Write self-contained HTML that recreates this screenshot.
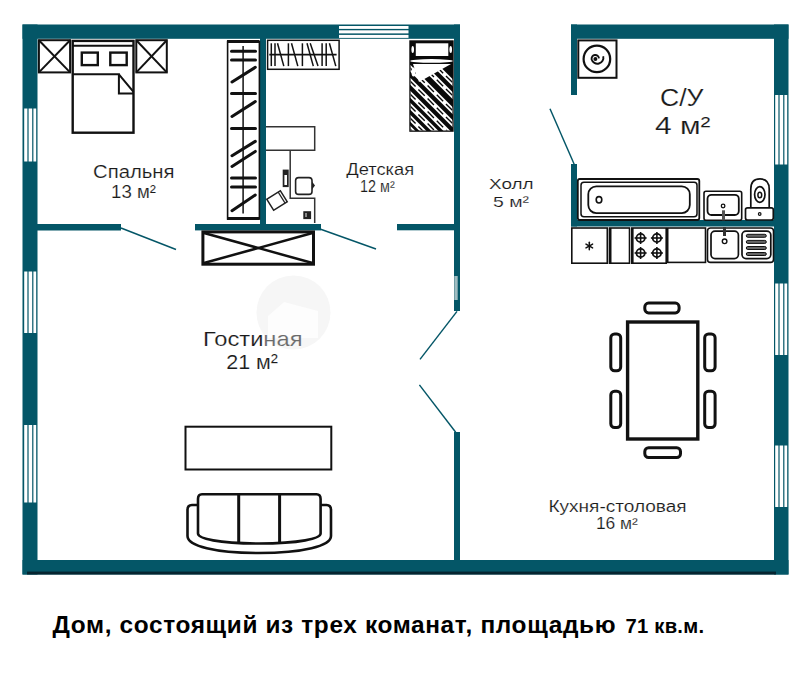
<!DOCTYPE html>
<html><head><meta charset="utf-8">
<style>
html,body{margin:0;padding:0;background:#fff;width:801px;height:700px;overflow:hidden}
svg{display:block}
.t{font-family:"Liberation Sans",sans-serif;fill:#1a1a1a;stroke:#fff;stroke-width:0.15px}
.b{font-family:"Liberation Sans",sans-serif;font-weight:bold;fill:#000}
</style></head><body>
<svg width="801" height="700" viewBox="0 0 801 700">
<rect width="801" height="700" fill="#fff"/>

<!-- watermark -->
<circle cx="293.5" cy="312.5" r="37" fill="#f6f6f6"/>
<path d="M268 316 L284 302 L318 311 L318 338 L268 338 Z" fill="#fdfdfd"/>

<!-- WALLS -->
<g fill="#045667">
  <!-- main top wall -->
  <rect x="22.5" y="24.5" width="437.5" height="14.3"/>
  <!-- left wall -->
  <rect x="22.5" y="24.5" width="15" height="550"/>
  <!-- bottom wall -->
  <rect x="22.5" y="560" width="766" height="14.5"/>
  <!-- main right wall (hall side) -->
  <rect x="454" y="24.5" width="6" height="286.5"/>
  <rect x="454" y="432" width="6" height="130"/>
  <!-- bedroom bottom wall -->
  <rect x="37" y="224" width="84" height="6.5"/>
  <rect x="195" y="224" width="126" height="6.4"/>
  <rect x="397" y="224" width="57" height="6.3"/>
  <!-- partition -->
  <rect x="260" y="38" width="6" height="188"/>
  <!-- bathroom -->
  <rect x="571" y="24.5" width="217.5" height="14.3"/>
  <rect x="571" y="24.5" width="6" height="70.5"/>
  <rect x="571" y="164" width="6" height="62.5"/>
  <rect x="571" y="220" width="203" height="6.5"/>
  <!-- right wall -->
  <rect x="774" y="24.5" width="14.5" height="550"/>
</g>
<rect x="27" y="571.6" width="749" height="2.9" fill="#062530"/>
<rect x="454.3" y="276" width="3.4" height="24" fill="#9fbcc1"/>

<!-- WINDOWS -->
<defs>
  <g id="winv">
    <rect x="0" y="0" width="15" height="1" fill="#045667"/>
  </g>
</defs>
<g id="windows">
  <!-- left wall windows -->
  <g fill="#fff">
    <rect x="24.2" y="108.5" width="3.2" height="53"/>
    <rect x="28.6" y="108.5" width="3.6" height="53"/>
    <rect x="33.4" y="108.5" width="2.8" height="53"/>
    <rect x="24.2" y="271.5" width="3.2" height="61.5"/>
    <rect x="28.6" y="271.5" width="3.6" height="61.5"/>
    <rect x="33.4" y="271.5" width="2.8" height="61.5"/>
    <rect x="24.2" y="425" width="3.2" height="77.5"/>
    <rect x="28.6" y="425" width="3.6" height="77.5"/>
    <rect x="33.4" y="425" width="2.8" height="77.5"/>
    <!-- right wall windows -->
    <rect x="775.2" y="95" width="3.2" height="69.5"/>
    <rect x="779.6" y="95" width="3.6" height="69.5"/>
    <rect x="784.4" y="95" width="2.8" height="69.5"/>
    <rect x="775.2" y="283.5" width="3.2" height="71.5"/>
    <rect x="779.6" y="283.5" width="3.6" height="71.5"/>
    <rect x="784.4" y="283.5" width="2.8" height="71.5"/>
    <rect x="775.2" y="445.5" width="3.2" height="61.5"/>
    <rect x="779.6" y="445.5" width="3.6" height="61.5"/>
    <rect x="784.4" y="445.5" width="2.8" height="61.5"/>
    <!-- top window -->
    <rect x="339" y="26" width="69.5" height="2.9"/>
    <rect x="339" y="30.3" width="69.5" height="3.1"/>
    <rect x="339" y="34.9" width="69.5" height="3"/>
  </g>
</g>

<!-- DOOR SWINGS -->
<g stroke="#045667" stroke-width="1.45" fill="none">
  <line x1="121" y1="228" x2="176" y2="249.5"/>
  <line x1="320" y1="229" x2="376" y2="249"/>
  <line x1="457" y1="311.4" x2="420" y2="359.4"/>
  <line x1="419.4" y1="384.9" x2="455.7" y2="432.3"/>
  <line x1="550" y1="108.75" x2="574.5" y2="165"/>
</g>

<!-- BEDROOM FURNITURE -->
<g stroke="#111" fill="none" stroke-width="2">
  <rect x="38.9" y="40.2" width="31.2" height="32.2"/>
  <line x1="38.9" y1="40.2" x2="70.1" y2="72.4"/>
  <line x1="70.1" y1="40.2" x2="38.9" y2="72.4"/>
  <rect x="136.3" y="40.2" width="30.5" height="32.2"/>
  <line x1="136.3" y1="40.2" x2="166.8" y2="72.4"/>
  <line x1="166.8" y1="40.2" x2="136.3" y2="72.4"/>
  <rect x="72.7" y="40.9" width="60.8" height="91.8" stroke-width="2.4"/>
  <line x1="72.5" y1="45.8" x2="133.5" y2="45.8" stroke-width="2"/>
  <rect x="81.8" y="52.6" width="16" height="12.5" stroke-width="2.4"/>
  <rect x="110.3" y="52.6" width="16.4" height="12.5" stroke-width="2.4"/>
  <path d="M72.5 74.3 H118.9 V93.6 H133.5 M118.9 74.3 L133.5 91.8" stroke-width="2"/>
</g>


<!-- BEDROOM WARDROBE -->
<g stroke="#111" fill="none">
  <rect x="227.6" y="41.5" width="31.8" height="177.5" stroke-width="1.6"/>
  <line x1="227" y1="41.5" x2="259.4" y2="41.5" stroke-width="3"/>
  <line x1="227" y1="218.6" x2="259.4" y2="218.6" stroke-width="3"/>
  <line x1="243.1" y1="46" x2="243.1" y2="213.6" stroke-width="1.5"/>
  <g stroke-width="3" stroke-linecap="round">
    <line x1="231.5" y1="51.3" x2="255.5" y2="51.3"/>
    <line x1="231.5" y1="60.1" x2="255.5" y2="60.1"/>
    <line x1="232" y1="82" x2="255.3" y2="67.3"/>
    <line x1="231.5" y1="93.4" x2="255.5" y2="93.4"/>
    <line x1="232" y1="116.5" x2="255.3" y2="101.6"/>
    <line x1="231.5" y1="128.6" x2="255.5" y2="128.6"/>
    <line x1="232" y1="155.7" x2="255.3" y2="141.4"/>
    <line x1="232" y1="166.4" x2="255.3" y2="151.4"/>
    <line x1="231.5" y1="177.9" x2="255.5" y2="177.9"/>
    <line x1="231.5" y1="187.1" x2="255.5" y2="187.1"/>
    <line x1="232" y1="210.7" x2="255.3" y2="195"/>
  </g>
</g>

<!-- KIDS SHELF -->
<g stroke="#111" fill="none" stroke-width="1.5">
  <rect x="267.6" y="40.3" width="71.5" height="29"/>
  <line x1="269.3" y1="54.7" x2="336.6" y2="54.7" stroke-width="1.8"/>
  <line x1="271.3" y1="43.3" x2="271.3" y2="66.1"/>
  <line x1="275" y1="43.3" x2="275" y2="66.1"/>
  <line x1="277.5" y1="43.3" x2="283.8" y2="66.1"/>
  <line x1="288.4" y1="43.3" x2="288.4" y2="66.1"/>
  <line x1="291.5" y1="43.3" x2="297.8" y2="66.1"/>
  <line x1="302.4" y1="43.3" x2="302.4" y2="66.1"/>
  <line x1="307" y1="43.3" x2="313.3" y2="66.1"/>
  <line x1="310.2" y1="43.3" x2="318" y2="66.1"/>
  <line x1="322.1" y1="43.3" x2="322.1" y2="66.1"/>
  <line x1="326.2" y1="43.3" x2="326.2" y2="66.1"/>
  <line x1="329.4" y1="43.3" x2="335.8" y2="66.1"/>
</g>

<!-- DESK -->
<g stroke="#333" fill="none" stroke-width="1.5">
  <path d="M266 126.7 H314.7 V150.2 H266"/>
  <path d="M290.2 150.2 V198.3 H314.7 V223"/>
  <rect x="282.7" y="169.6" width="6" height="17.5" fill="#222" stroke="none"/>
  <rect x="284.4" y="175" width="2.6" height="10" fill="#fff" stroke="none"/>
  <rect x="295.6" y="177.6" width="16.4" height="16.8" rx="3" stroke="#222" stroke-width="1.6"/>
  <path d="M312 181.5 L315 185.5 L312 189.5 Z" fill="#222" stroke="none"/>
  <g transform="translate(277,200.5) rotate(-32)">
    <rect x="-8" y="-6.5" width="16" height="13" stroke="#222" stroke-width="1.5"/>
    <line x1="5.5" y1="-6.5" x2="5.5" y2="6.5" stroke="#222" stroke-width="1.2"/>
  </g>
  <rect x="303.3" y="211.2" width="7.8" height="7.9" fill="#222" stroke="none"/>
  <rect x="305" y="213" width="2" height="4" fill="#888" stroke="none"/>
</g>

<!-- SINGLE BED -->
<g>
  <rect x="409.3" y="40.3" width="44.4" height="91.5" fill="#0a0a0a"/>
  <rect x="415.8" y="43.3" width="32.5" height="12.7" fill="#fff"/>
  <ellipse cx="412.7" cy="49.5" rx="1.3" ry="3.5" fill="#fff"/>
  <ellipse cx="450.7" cy="49.5" rx="1.3" ry="3.5" fill="#fff"/>
  <ellipse cx="431.5" cy="60.9" rx="21.5" ry="1.8" fill="#fff"/>
  <clipPath id="bedclip"><rect x="410.6" y="64" width="41.8" height="66.5"/></clipPath>
  <g clip-path="url(#bedclip)" stroke="#fff" stroke-width="5" fill="none"><line x1="400" y1="30" x2="470" y2="100"/><line x1="400" y1="43" x2="470" y2="113"/><line x1="400" y1="58" x2="470" y2="128"/><line x1="400" y1="71" x2="470" y2="141"/><line x1="400" y1="84" x2="470" y2="154"/><line x1="400" y1="96" x2="470" y2="166"/><line x1="400" y1="108" x2="470" y2="178"/><line x1="400" y1="119" x2="470" y2="189"/></g>
  <g clip-path="url(#bedclip)" stroke="#0a0a0a" stroke-width="1.4" stroke-dasharray="9 4" fill="none"><line x1="400" y1="30" x2="470" y2="100"/><line x1="400" y1="43" x2="470" y2="113"/><line x1="400" y1="58" x2="470" y2="128"/><line x1="400" y1="71" x2="470" y2="141"/><line x1="400" y1="84" x2="470" y2="154"/><line x1="400" y1="96" x2="470" y2="166"/><line x1="400" y1="108" x2="470" y2="178"/><line x1="400" y1="119" x2="470" y2="189"/></g>
  <path d="M413 64 L451 64 L419 82 Z" fill="#fff"/>
  <ellipse cx="413.5" cy="72" rx="2" ry="4.5" fill="#fff"/>
</g>

<!-- TV CABINET (below partition) -->
<g stroke="#111" fill="none" stroke-width="3">
  <rect x="202.9" y="231.9" width="110.6" height="32.3"/>
  <line x1="204" y1="233" x2="312.5" y2="263" stroke-width="2.5"/>
  <line x1="312.5" y1="233" x2="204" y2="263" stroke-width="2.5"/>
</g>

<!-- WASHING MACHINE -->
<g stroke="#111" fill="none">
  <rect x="578.3" y="40.4" width="38.2" height="37.4" stroke-width="2"/>
  <circle cx="596.9" cy="58.9" r="13.3" stroke-width="2.2"/>
  <path d="M599 58.3 A3.7 3.7 0 0 0 591.6 59.2 A5.7 5.7 0 1 0 603.2 56.2" stroke-width="1.9"/>
  <circle cx="595.4" cy="59" r="2" fill="#111" stroke="none"/>
</g>

<!-- BATHTUB -->
<g stroke="#111" fill="none">
  <rect x="577.8" y="179" width="121.5" height="41" rx="2" stroke-width="1.8"/>
  <rect x="581" y="182.3" width="116" height="34.5" rx="3" stroke-width="1.5"/>
  <rect x="588.3" y="186.3" width="101.5" height="26.8" rx="8" stroke-width="1.8"/>
  <ellipse cx="599" cy="199.8" rx="2.8" ry="3.2" stroke-width="1.6"/>
</g>

<!-- BATH SINK -->
<g stroke="#111" fill="none">
  <rect x="704" y="191.3" width="37.7" height="29" rx="2" stroke-width="1.6"/>
  <rect x="707.5" y="194.8" width="31.3" height="20.2" rx="4" stroke-width="1.8"/>
  <circle cx="723.1" cy="206" r="1.8" stroke-width="1.3"/>
  <rect x="722" y="210.3" width="3" height="10" fill="#555" stroke="none"/>
</g>

<!-- TOILET -->
<g stroke="#111" fill="none">
  <path d="M750.8 207.6 V189 C750.8 182 754.5 178.9 760 178.9 C765.5 178.9 769.2 182 769.2 189 V207.6" stroke-width="1.7"/>
  <ellipse cx="759.8" cy="194.5" rx="5.2" ry="7.8" stroke-width="1.7"/>
  <ellipse cx="759.8" cy="195" rx="1.9" ry="2.8" stroke-width="1.5"/>
  <rect x="745.5" y="207.8" width="27.8" height="12.2" rx="2" stroke-width="1.7"/>
  <circle cx="759.7" cy="214" r="1.3" stroke-width="1.2"/>
</g>

<!-- KITCHEN COUNTER -->
<g stroke="#111" fill="none" stroke-width="1.6">
  <rect x="571.8" y="228" width="35.5" height="35.2"/>
  <g stroke-width="1.5" stroke-linecap="round"><line x1="589.3" y1="242.2" x2="589.3" y2="249.8"/><line x1="586" y1="244.1" x2="592.6" y2="247.9"/><line x1="586" y1="247.9" x2="592.6" y2="244.1"/></g>
  <rect x="609.5" y="228" width="20" height="35.2"/>
  <line x1="610.3" y1="228" x2="610.3" y2="263.2" stroke-width="2.4"/>
  <rect x="631.8" y="228" width="34.4" height="35.2"/>
  <line x1="632.4" y1="228" x2="632.4" y2="263.2" stroke-width="2.4"/>
  <rect x="667.7" y="228" width="37.8" height="34.4"/>
  <rect x="707.5" y="228" width="66" height="34.4" rx="3"/>
  <rect x="711" y="231.1" width="27.4" height="27.5" rx="4" stroke-width="1.7"/>
  <circle cx="724.6" cy="241.3" r="2.3" stroke-width="1.4"/>
  <rect x="723" y="227" width="3" height="9" fill="#333" stroke="none"/>
  <rect x="742" y="231.1" width="28.8" height="27.5" rx="4" stroke-width="1.7"/>
  <g fill="#666" stroke="#111" stroke-width="1">
    <rect x="746.3" y="234.3" width="20" height="3" rx="1.5"/>
    <rect x="746.3" y="240.4" width="20" height="3" rx="1.5"/>
    <rect x="746.3" y="246.5" width="20" height="3" rx="1.5"/>
    <rect x="746.3" y="252.5" width="20" height="3" rx="1.5"/>
  </g>
</g>
<g stroke="#111" fill="none" stroke-width="1.5">
  <g id="burner">
    <circle cx="640.6" cy="238" r="4.2" stroke-width="1.8"/>
    <line x1="634.6" y1="238" x2="646.6" y2="238" stroke-width="1.6"/>
    <line x1="640.6" y1="232" x2="640.6" y2="244" stroke-width="1.6"/>
  </g>
  <use href="#burner" x="16.3"/>
  <use href="#burner" y="15"/>
  <use href="#burner" x="16.3" y="15"/>
</g>

<!-- LIVING ROOM TV / TABLE -->
<g stroke="#111" fill="none" stroke-width="2">
  <rect x="185.5" y="426.7" width="145.8" height="42.8"/>
</g>

<!-- SOFA -->
<g stroke="#111" fill="none" stroke-width="2.6">
  <path d="M198 505 H192 C189 505 187.5 507 187.5 510 V536 C187.5 546 215 553 259 553 C303 553 331 546 331 536 V510 C331 507 329.5 505 326.5 505 H320.5"/>
  <path d="M202 494.3 H316.5 C319.5 494.3 320.6 496 320.6 499 V533.5 C320.6 538.5 300 543.5 259 543.5 C218 543.5 198 538.5 198 533.5 V499 C198 496 199.5 494.3 202 494.3 Z"/>
  <line x1="238.7" y1="494.3" x2="238.7" y2="542.5" stroke-width="3"/>
  <line x1="279.6" y1="494.3" x2="279.6" y2="542.5" stroke-width="3"/>
</g>

<!-- DINING TABLE -->
<g stroke="#111" fill="none" stroke-width="3">
  <rect x="627.6" y="322" width="70.2" height="117" stroke-width="3.4"/>
  <rect x="644.8" y="303.1" width="34.3" height="9.8" rx="3.8"/>
  <rect x="644.8" y="447.7" width="35.7" height="9.8" rx="3.8"/>
  <rect x="610.8" y="334" width="9.9" height="36.8" rx="3.8"/>
  <rect x="610.8" y="391.3" width="9.9" height="36.2" rx="3.8"/>
  <rect x="704.7" y="334" width="10.4" height="36.8" rx="3.8"/>
  <rect x="704.7" y="391.3" width="10.4" height="36.2" rx="3.8"/>
</g>

<!-- TEXT -->
<text class="t" x="93.0" y="178" font-size="17.5" textLength="81.5" lengthAdjust="spacingAndGlyphs">Спальня</text>
<text class="t" x="111.0" y="197.5" font-size="17.5" textLength="45.0" lengthAdjust="spacingAndGlyphs">13 м²</text>
<text class="t" x="346.3" y="175.4" font-size="16.5" textLength="67.8" lengthAdjust="spacingAndGlyphs">Детская</text>
<text class="t" x="360.0" y="192" font-size="16.5" textLength="34.7" lengthAdjust="spacingAndGlyphs">12 м²</text>
<text class="t" x="489.0" y="189.3" font-size="15.4" textLength="44.5" lengthAdjust="spacingAndGlyphs">Холл</text>
<text class="t" x="493.0" y="207.2" font-size="15.4" textLength="36.0" lengthAdjust="spacingAndGlyphs">5 м²</text>
<text class="t" x="660.0" y="106.25" font-size="24.4" textLength="43.5" lengthAdjust="spacingAndGlyphs">С/У</text>
<text class="t" x="655.0" y="133.75" font-size="24" textLength="55.5" lengthAdjust="spacingAndGlyphs">4 м²</text>
<text class="t" x="203.0" y="346.4" font-size="21" textLength="99.5" lengthAdjust="spacingAndGlyphs">Гости<tspan fill="#6a6a6a">ная</tspan></text>
<text class="t" x="226.2" y="369.1" font-size="21" textLength="51.8" lengthAdjust="spacingAndGlyphs">21 м²</text>
<text class="t" x="548.4" y="511.5" font-size="15.8" textLength="138.3" lengthAdjust="spacingAndGlyphs">Кухня-столовая</text>
<text class="t" x="595.9" y="529.4" font-size="15.8" textLength="42.0" lengthAdjust="spacingAndGlyphs">16 м²</text>

<text class="b" x="52.5" y="632.5" font-size="24.4" textLength="563" lengthAdjust="spacing">Дом, состоящий из трех команат, площадью</text>
<text class="b" x="625.5" y="633.1" font-size="20.2" textLength="78.5" lengthAdjust="spacing">71 кв.м.</text>
</svg>
</body></html>
